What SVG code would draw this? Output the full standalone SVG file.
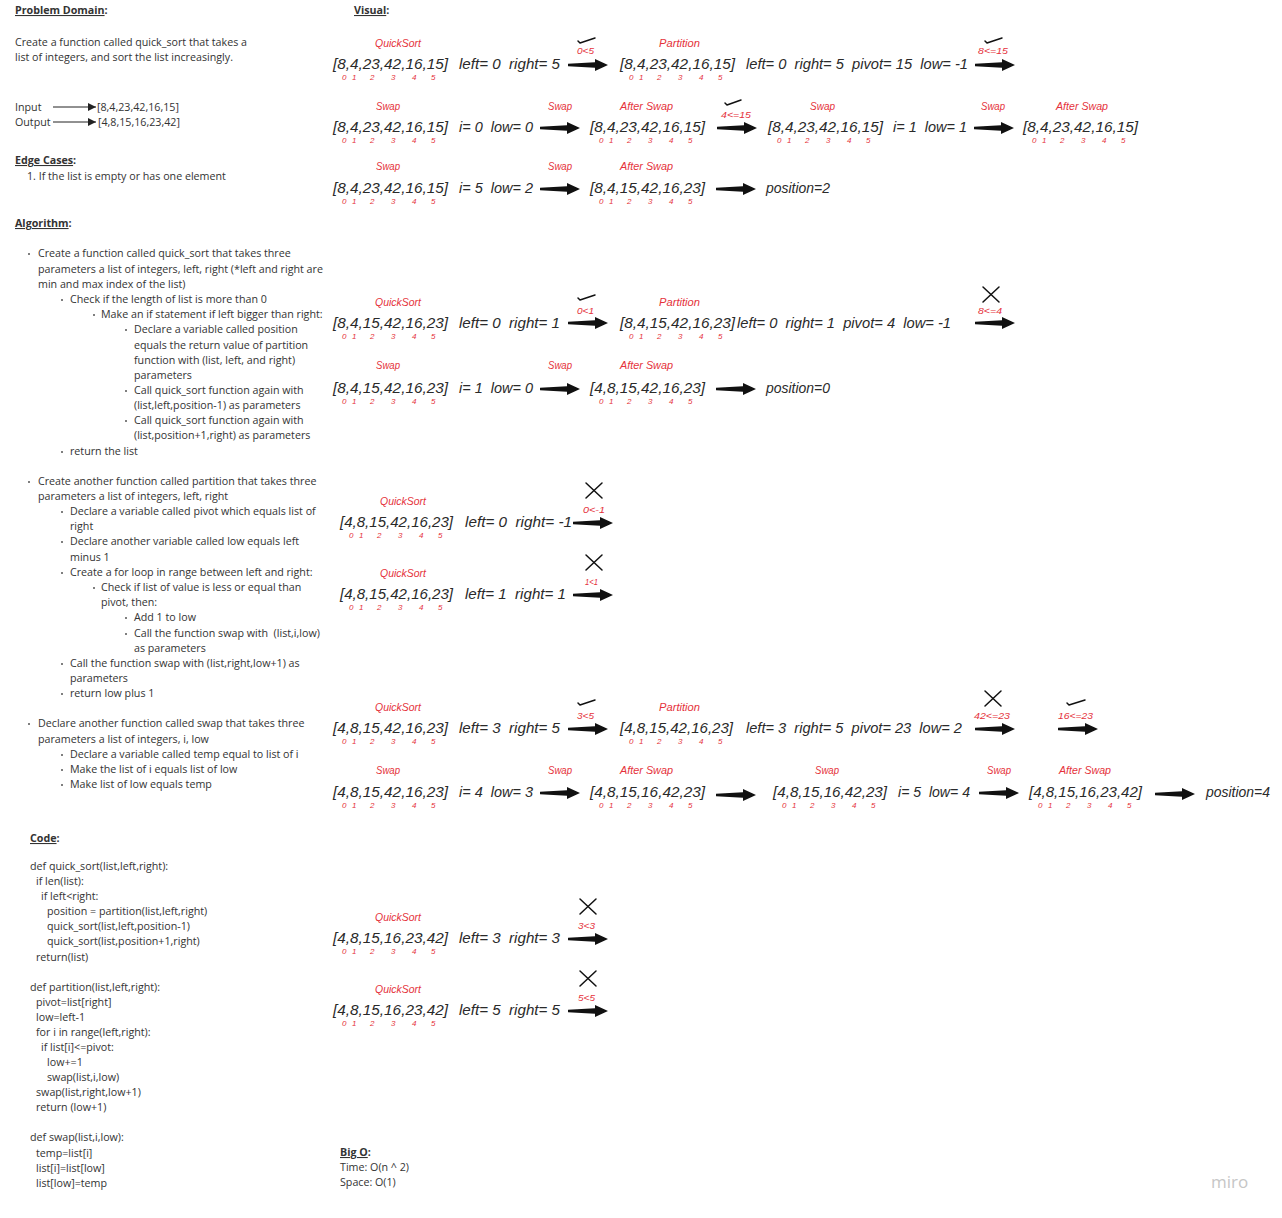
<svg xmlns="http://www.w3.org/2000/svg" width="1282" height="1218" viewBox="0 0 1282 1218">
<style>
.t{font-family:"Open Sans","Liberation Sans",sans-serif;font-size:10.7px;fill:#333}
.h{font-weight:bold}
.u{text-decoration:underline}
.hw{font-family:"Liberation Sans",sans-serif;font-style:italic;font-size:15px;fill:#2a2a2a;white-space:pre}
.rl{font-family:"Liberation Sans",sans-serif;font-style:italic;font-size:11px;fill:#e5323b}
.ix{font-family:"Liberation Sans",sans-serif;font-style:italic;font-size:8px;fill:#e5323b}
.cd{font-family:"Liberation Sans",sans-serif;font-style:italic;font-size:9px;fill:#e5323b}
.mk{fill:none;stroke:#111;stroke-width:1.5;stroke-linecap:round;stroke-linejoin:round}
.bl{fill:#555}
.miro{font-family:"Open Sans","Liberation Sans",sans-serif;font-size:17px;fill:#c6c6c6}
.thin{stroke:#222;stroke-width:1;fill:none}
</style>
<defs>
<g id="ix" class="ix"><text x="9">0</text><text x="19">1</text><text x="37">2</text><text x="58">3</text><text x="79">4</text><text x="98">5</text></g>
<path id="arr" d="M0,-1.2 L27,-2.8 L27,-6 L40,0 L27,6 L27,2.8 L0,1.2 Z" fill="#111"/>
<path id="xm" d="M0,0 L16,15 M16,0 L0,15" class="mk"/>
<marker id="sm" viewBox="0 0 10 10" refX="10" refY="5" markerWidth="8" markerHeight="8" markerUnits="userSpaceOnUse" orient="auto"><path d="M0,0 L10,5 L0,10 Z" fill="#222"/></marker>
</defs>

<!-- Left column text -->
<g id="problem-domain">
<text class="t h" x="15" y="14"><tspan class="u">Problem Domain</tspan>:</text>
<text class="t" x="15" y="46">Create a function called quick_sort that takes a</text>
<text class="t" x="15" y="61">list of integers, and sort the list increasingly.</text>
<text class="t" x="15" y="111">Input</text>
<text class="t" x="97" y="111">[8,4,23,42,16,15]</text>
<text class="t" x="15" y="126">Output</text>
<text class="t" x="98" y="126">[4,8,15,16,23,42]</text>
</g>
<g id="edge-cases">
<text class="t h" x="15" y="164"><tspan class="u">Edge Cases</tspan>:</text>
<text class="t" x="27" y="180">1. If the list is empty or has one element</text>
</g>
<g id="algorithm">
<text class="t h" x="15" y="227"><tspan class="u">Algorithm</tspan>:</text>
<circle class="bl" cx="29" cy="254" r="1"/><text class="t" x="38" y="257">Create a function called quick_sort that takes three</text>
<text class="t" x="38" y="273">parameters a list of integers, left, right (*left and right are</text>
<text class="t" x="38" y="288">min and max index of the list)</text>
<circle class="bl" cx="62" cy="300" r="1"/><text class="t" x="70" y="303">Check if the length of list is more than 0</text>
<circle class="bl" cx="94" cy="315" r="1"/><text class="t" x="101" y="318">Make an if statement if left bigger than right:</text>
<circle class="bl" cx="126" cy="330" r="1"/><text class="t" x="134" y="333">Declare a variable called position</text>
<text class="t" x="134" y="349">equals the return value of partition</text>
<text class="t" x="134" y="364">function with (list, left, and right)</text>
<text class="t" x="134" y="379">parameters</text>
<circle class="bl" cx="126" cy="391" r="1"/><text class="t" x="134" y="394">Call quick_sort function again with</text>
<text class="t" x="134" y="409">(list,left,position-1) as parameters</text>
<circle class="bl" cx="126" cy="421" r="1"/><text class="t" x="134" y="424">Call quick_sort function again with</text>
<text class="t" x="134" y="439">(list,position+1,right) as parameters</text>
<circle class="bl" cx="62" cy="452" r="1"/><text class="t" x="70" y="455">return the list</text>

<circle class="bl" cx="29" cy="482" r="1"/><text class="t" x="38" y="485">Create another function called partition that takes three</text>
<text class="t" x="38" y="500">parameters a list of integers, left, right</text>
<circle class="bl" cx="62" cy="512" r="1"/><text class="t" x="70" y="515">Declare a variable called pivot which equals list of</text>
<text class="t" x="70" y="530">right</text>
<circle class="bl" cx="62" cy="542" r="1"/><text class="t" x="70" y="545">Declare another variable called low equals left</text>
<text class="t" x="70" y="561">minus 1</text>
<circle class="bl" cx="62" cy="573" r="1"/><text class="t" x="70" y="576">Create a for loop in range between left and right:</text>
<circle class="bl" cx="94" cy="588" r="1"/><text class="t" x="101" y="591">Check if list of value is less or equal than</text>
<text class="t" x="101" y="606">pivot, then:</text>
<circle class="bl" cx="126" cy="618" r="1"/><text class="t" x="134" y="621">Add 1 to low</text>
<circle class="bl" cx="126" cy="634" r="1"/><text class="t" x="134" y="637" style="white-space:pre">Call the function swap with  (list,i,low)</text>
<text class="t" x="134" y="652">as parameters</text>
<circle class="bl" cx="62" cy="664" r="1"/><text class="t" x="70" y="667">Call the function swap with (list,right,low+1) as</text>
<text class="t" x="70" y="682">parameters</text>
<circle class="bl" cx="62" cy="694" r="1"/><text class="t" x="70" y="697">return low plus 1</text>

<circle class="bl" cx="29" cy="724" r="1"/><text class="t" x="38" y="727">Declare another function called swap that takes three</text>
<text class="t" x="38" y="743">parameters a list of integers, i, low</text>
<circle class="bl" cx="62" cy="755" r="1"/><text class="t" x="70" y="758">Declare a variable called temp equal to list of i</text>
<circle class="bl" cx="62" cy="770" r="1"/><text class="t" x="70" y="773">Make the list of i equals list of low</text>
<circle class="bl" cx="62" cy="785" r="1"/><text class="t" x="70" y="788">Make list of low equals temp</text>
</g>
<g id="code">
<text class="t h" x="30" y="842"><tspan class="u">Code</tspan>:</text>
<text class="t" x="30" y="870">def quick_sort(list,left,right):</text>
<text class="t" x="36" y="885">if len(list):</text>
<text class="t" x="41" y="900">if left&lt;right:</text>
<text class="t" x="47" y="915">position = partition(list,left,right)</text>
<text class="t" x="47" y="930">quick_sort(list,left,position-1)</text>
<text class="t" x="47" y="945">quick_sort(list,position+1,right)</text>
<text class="t" x="36" y="961">return(list)</text>
<text class="t" x="30" y="991">def partition(list,left,right):</text>
<text class="t" x="36" y="1006">pivot=list[right]</text>
<text class="t" x="36" y="1021">low=left-1</text>
<text class="t" x="36" y="1036">for i in range(left,right):</text>
<text class="t" x="41" y="1051">if list[i]&lt;=pivot:</text>
<text class="t" x="47" y="1066">low+=1</text>
<text class="t" x="47" y="1081">swap(list,i,low)</text>
<text class="t" x="36" y="1096">swap(list,right,low+1)</text>
<text class="t" x="36" y="1111">return (low+1)</text>
<text class="t" x="30" y="1141">def swap(list,i,low):</text>
<text class="t" x="36" y="1157">temp=list[i]</text>
<text class="t" x="36" y="1172">list[i]=list[low]</text>
<text class="t" x="36" y="1187">list[low]=temp</text>
</g>
<g id="big-o">
<text class="t h" x="340" y="1156"><tspan class="u">Big O</tspan>:</text>
<text class="t" x="340" y="1171">Time: O(n ^ 2)</text>
<text class="t" x="340" y="1186">Space: O(1)</text>
</g>
<g id="visual-title"><text class="t h" x="354" y="14"><tspan class="u">Visual</tspan>:</text></g>
<text class="miro" x="1211" y="1188">miro</text>

<!-- Row 1 -->
<g id="r1-quicksort">
<text class="rl" x="375" y="47" textLength="46" lengthAdjust="spacingAndGlyphs">QuickSort</text>
<text class="hw" x="333" y="69" textLength="115" lengthAdjust="spacingAndGlyphs">[8,4,23,42,16,15]</text><use href="#ix" x="333" y="80"/>
<text class="hw" x="459" y="69" textLength="101" lengthAdjust="spacingAndGlyphs">left= 0  right= 5</text>
</g>
<g id="r1-partition">
<text class="rl" x="659" y="47" textLength="41" lengthAdjust="spacingAndGlyphs">Partition</text>
<text class="hw" x="620" y="69" textLength="115" lengthAdjust="spacingAndGlyphs">[8,4,23,42,16,15]</text><use href="#ix" x="620" y="80"/>
<text class="hw" x="746" y="69" textLength="222" lengthAdjust="spacingAndGlyphs">left= 0  right= 5  pivot= 15  low= -1</text>
</g>
<!-- Row 2 -->
<g id="r2-swap1">
<text class="rl" x="376" y="110" textLength="24" lengthAdjust="spacingAndGlyphs">Swap</text>
<text class="hw" x="333" y="132" textLength="115" lengthAdjust="spacingAndGlyphs">[8,4,23,42,16,15]</text><use href="#ix" x="333" y="143"/>
<text class="hw" x="459" y="132" textLength="74" lengthAdjust="spacingAndGlyphs">i= 0  low= 0</text>
</g>
<g id="r2-after1">
<text class="rl" x="620" y="110" textLength="53" lengthAdjust="spacingAndGlyphs">After Swap</text>
<text class="hw" x="590" y="132" textLength="115" lengthAdjust="spacingAndGlyphs">[8,4,23,42,16,15]</text><use href="#ix" x="590" y="143"/>
</g>
<g id="r2-swap2">
<text class="rl" x="810" y="110" textLength="25" lengthAdjust="spacingAndGlyphs">Swap</text>
<text class="hw" x="768" y="132" textLength="115" lengthAdjust="spacingAndGlyphs">[8,4,23,42,16,15]</text><use href="#ix" x="768" y="143"/>
<text class="hw" x="893" y="132" textLength="74" lengthAdjust="spacingAndGlyphs">i= 1  low= 1</text>
</g>
<g id="r2-after2">
<text class="rl" x="1056" y="110" textLength="52" lengthAdjust="spacingAndGlyphs">After Swap</text>
<text class="hw" x="1023" y="132" textLength="115" lengthAdjust="spacingAndGlyphs">[8,4,23,42,16,15]</text><use href="#ix" x="1023" y="143"/>
</g>
<!-- Row 3 -->
<g id="r3-swap">
<text class="rl" x="376" y="170" textLength="24" lengthAdjust="spacingAndGlyphs">Swap</text>
<text class="hw" x="333" y="193" textLength="115" lengthAdjust="spacingAndGlyphs">[8,4,23,42,16,15]</text><use href="#ix" x="333" y="204"/>
<text class="hw" x="459" y="193" textLength="74" lengthAdjust="spacingAndGlyphs">i= 5  low= 2</text>
</g>
<g id="r3-after">
<text class="rl" x="620" y="170" textLength="53" lengthAdjust="spacingAndGlyphs">After Swap</text>
<text class="hw" x="590" y="193" textLength="115" lengthAdjust="spacingAndGlyphs">[8,4,15,42,16,23]</text><use href="#ix" x="590" y="204"/>
</g>
<g id="r3-position"><text class="hw" x="766" y="193" textLength="64" lengthAdjust="spacingAndGlyphs">position=2</text></g>
<!-- Row 4 -->
<g id="r4-quicksort">
<text class="rl" x="375" y="306" textLength="46" lengthAdjust="spacingAndGlyphs">QuickSort</text>
<text class="hw" x="333" y="328" textLength="115" lengthAdjust="spacingAndGlyphs">[8,4,15,42,16,23]</text><use href="#ix" x="333" y="339"/>
<text class="hw" x="459" y="328" textLength="101" lengthAdjust="spacingAndGlyphs">left= 0  right= 1</text>
</g>
<g id="r4-partition">
<text class="rl" x="659" y="306" textLength="41" lengthAdjust="spacingAndGlyphs">Partition</text>
<text class="hw" x="620" y="328" textLength="115" lengthAdjust="spacingAndGlyphs">[8,4,15,42,16,23]</text><use href="#ix" x="620" y="339"/>
<text class="hw" x="737" y="328" textLength="214" lengthAdjust="spacingAndGlyphs">left= 0  right= 1  pivot= 4  low= -1</text>
</g>
<!-- Row 5 -->
<g id="r5-swap">
<text class="rl" x="376" y="369" textLength="24" lengthAdjust="spacingAndGlyphs">Swap</text>
<text class="hw" x="333" y="393" textLength="115" lengthAdjust="spacingAndGlyphs">[8,4,15,42,16,23]</text><use href="#ix" x="333" y="404"/>
<text class="hw" x="459" y="393" textLength="74" lengthAdjust="spacingAndGlyphs">i= 1  low= 0</text>
</g>
<g id="r5-after">
<text class="rl" x="620" y="369" textLength="53" lengthAdjust="spacingAndGlyphs">After Swap</text>
<text class="hw" x="590" y="393" textLength="115" lengthAdjust="spacingAndGlyphs">[4,8,15,42,16,23]</text><use href="#ix" x="590" y="404"/>
</g>
<g id="r5-position"><text class="hw" x="766" y="393" textLength="64" lengthAdjust="spacingAndGlyphs">position=0</text></g>
<!-- Row 6 -->
<g id="r6-quicksort">
<text class="rl" x="380" y="505" textLength="46" lengthAdjust="spacingAndGlyphs">QuickSort</text>
<text class="hw" x="340" y="527" textLength="113" lengthAdjust="spacingAndGlyphs">[4,8,15,42,16,23]</text><use href="#ix" x="340" y="538"/>
<text class="hw" x="465" y="527" textLength="107" lengthAdjust="spacingAndGlyphs">left= 0  right= -1</text>
</g>
<!-- Row 7 -->
<g id="r7-quicksort">
<text class="rl" x="380" y="577" textLength="46" lengthAdjust="spacingAndGlyphs">QuickSort</text>
<text class="hw" x="340" y="599" textLength="113" lengthAdjust="spacingAndGlyphs">[4,8,15,42,16,23]</text><use href="#ix" x="340" y="610"/>
<text class="hw" x="465" y="599" textLength="101" lengthAdjust="spacingAndGlyphs">left= 1  right= 1</text>
</g>
<!-- Row 8 -->
<g id="r8-quicksort">
<text class="rl" x="375" y="711" textLength="46" lengthAdjust="spacingAndGlyphs">QuickSort</text>
<text class="hw" x="333" y="733" textLength="115" lengthAdjust="spacingAndGlyphs">[4,8,15,42,16,23]</text><use href="#ix" x="333" y="744"/>
<text class="hw" x="459" y="733" textLength="101" lengthAdjust="spacingAndGlyphs">left= 3  right= 5</text>
</g>
<g id="r8-partition">
<text class="rl" x="659" y="711" textLength="41" lengthAdjust="spacingAndGlyphs">Partition</text>
<text class="hw" x="620" y="733" textLength="113" lengthAdjust="spacingAndGlyphs">[4,8,15,42,16,23]</text><use href="#ix" x="620" y="744"/>
<text class="hw" x="746" y="733" textLength="216" lengthAdjust="spacingAndGlyphs">left= 3  right= 5  pivot= 23  low= 2</text>
</g>
<!-- Row 9 -->
<g id="r9-swap1">
<text class="rl" x="376" y="774" textLength="24" lengthAdjust="spacingAndGlyphs">Swap</text>
<text class="hw" x="333" y="797" textLength="115" lengthAdjust="spacingAndGlyphs">[4,8,15,42,16,23]</text><use href="#ix" x="333" y="808"/>
<text class="hw" x="459" y="797" textLength="74" lengthAdjust="spacingAndGlyphs">i= 4  low= 3</text>
</g>
<g id="r9-after1">
<text class="rl" x="620" y="774" textLength="53" lengthAdjust="spacingAndGlyphs">After Swap</text>
<text class="hw" x="590" y="797" textLength="115" lengthAdjust="spacingAndGlyphs">[4,8,15,16,42,23]</text><use href="#ix" x="590" y="808"/>
</g>
<g id="r9-swap2">
<text class="rl" x="815" y="774" textLength="24" lengthAdjust="spacingAndGlyphs">Swap</text>
<text class="hw" x="773" y="797" textLength="114" lengthAdjust="spacingAndGlyphs">[4,8,15,16,42,23]</text><use href="#ix" x="773" y="808"/>
<text class="hw" x="898" y="797" textLength="72" lengthAdjust="spacingAndGlyphs">i= 5  low= 4</text>
</g>
<g id="r9-after2">
<text class="rl" x="1059" y="774" textLength="52" lengthAdjust="spacingAndGlyphs">After Swap</text>
<text class="hw" x="1029" y="797" textLength="113" lengthAdjust="spacingAndGlyphs">[4,8,15,16,23,42]</text><use href="#ix" x="1029" y="808"/>
</g>
<g id="r9-position"><text class="hw" x="1206" y="797" textLength="64" lengthAdjust="spacingAndGlyphs">position=4</text></g>
<!-- Row 10 -->
<g id="r10-quicksort">
<text class="rl" x="375" y="921" textLength="46" lengthAdjust="spacingAndGlyphs">QuickSort</text>
<text class="hw" x="333" y="943" textLength="115" lengthAdjust="spacingAndGlyphs">[4,8,15,16,23,42]</text><use href="#ix" x="333" y="954"/>
<text class="hw" x="459" y="943" textLength="101" lengthAdjust="spacingAndGlyphs">left= 3  right= 3</text>
</g>
<!-- Row 11 -->
<g id="r11-quicksort">
<text class="rl" x="375" y="993" textLength="46" lengthAdjust="spacingAndGlyphs">QuickSort</text>
<text class="hw" x="333" y="1015" textLength="115" lengthAdjust="spacingAndGlyphs">[4,8,15,16,23,42]</text><use href="#ix" x="333" y="1026"/>
<text class="hw" x="459" y="1015" textLength="101" lengthAdjust="spacingAndGlyphs">left= 5  right= 5</text>
</g>

<!-- Connectors -->
<g id="connectors">
<line class="thin" x1="53" y1="107" x2="96" y2="107" marker-end="url(#sm)"/>
<line class="thin" x1="53" y1="122" x2="96" y2="122" marker-end="url(#sm)"/>

<use href="#arr" x="568" y="65"/><use href="#arr" x="975" y="65"/>
<use href="#arr" x="540" y="128"/><use href="#arr" x="717" y="128"/><use href="#arr" x="974" y="128"/>
<use href="#arr" x="540" y="189"/><use href="#arr" x="716" y="189"/>
<use href="#arr" x="568" y="323"/><use href="#arr" x="975" y="323"/>
<use href="#arr" x="540" y="389"/><use href="#arr" x="716" y="389"/>
<use href="#arr" x="573" y="523"/>
<use href="#arr" x="573" y="595"/>
<use href="#arr" x="568" y="729"/><use href="#arr" x="975" y="729"/><use href="#arr" x="1058" y="729"/>
<use href="#arr" x="540" y="793"/><use href="#arr" x="716" y="795"/><use href="#arr" x="979" y="793"/><use href="#arr" x="1155" y="794"/>
<use href="#arr" x="568" y="939"/>
<use href="#arr" x="568" y="1011"/>

<!-- connector labels -->
<text class="rl" x="548" y="110" textLength="24" lengthAdjust="spacingAndGlyphs">Swap</text>
<text class="rl" x="981" y="110" textLength="24" lengthAdjust="spacingAndGlyphs">Swap</text>
<text class="rl" x="548" y="170" textLength="24" lengthAdjust="spacingAndGlyphs">Swap</text>
<text class="rl" x="548" y="369" textLength="24" lengthAdjust="spacingAndGlyphs">Swap</text>
<text class="rl" x="548" y="774" textLength="24" lengthAdjust="spacingAndGlyphs">Swap</text>
<text class="rl" x="987" y="774" textLength="24" lengthAdjust="spacingAndGlyphs">Swap</text>

<text class="cd" x="577" y="54" textLength="17" lengthAdjust="spacingAndGlyphs">0&lt;5</text>
<text class="cd" x="978" y="54" textLength="30" lengthAdjust="spacingAndGlyphs">8&lt;=15</text>
<text class="cd" x="721" y="118" textLength="30" lengthAdjust="spacingAndGlyphs">4&lt;=15</text>
<text class="cd" x="577" y="314" textLength="17" lengthAdjust="spacingAndGlyphs">0&lt;1</text>
<text class="cd" x="978" y="314" textLength="24" lengthAdjust="spacingAndGlyphs">8&lt;=4</text>
<text class="cd" x="583" y="513" textLength="22" lengthAdjust="spacingAndGlyphs">0&lt;-1</text>
<text class="cd" x="585" y="585" textLength="13" lengthAdjust="spacingAndGlyphs">1&lt;1</text>
<text class="cd" x="577" y="719" textLength="17" lengthAdjust="spacingAndGlyphs">3&lt;5</text>
<text class="cd" x="974" y="719" textLength="36" lengthAdjust="spacingAndGlyphs">42&lt;=23</text>
<text class="cd" x="1058" y="719" textLength="35" lengthAdjust="spacingAndGlyphs">16&lt;=23</text>
<text class="cd" x="578" y="929" textLength="17" lengthAdjust="spacingAndGlyphs">3&lt;3</text>
<text class="cd" x="578" y="1001" textLength="17" lengthAdjust="spacingAndGlyphs">5&lt;5</text>

<path class="mk" d="M578,41 L580,43 L595,38"/>
<path class="mk" d="M985,41 L987,43 L1002,38"/>
<path class="mk" d="M725,103 L727,105 L741,100"/>
<path class="mk" d="M578,298 L580,300 L595,295"/>
<path class="mk" d="M578,703 L580,705 L595,700"/>
<path class="mk" d="M1067,703 L1069,705 L1085,700"/>

<use href="#xm" x="983" y="287"/>
<use href="#xm" x="586" y="483"/>
<use href="#xm" x="586" y="555"/>
<use href="#xm" x="985" y="691"/>
<use href="#xm" x="580" y="899"/>
<use href="#xm" x="580" y="971"/>
</g>
</svg>
